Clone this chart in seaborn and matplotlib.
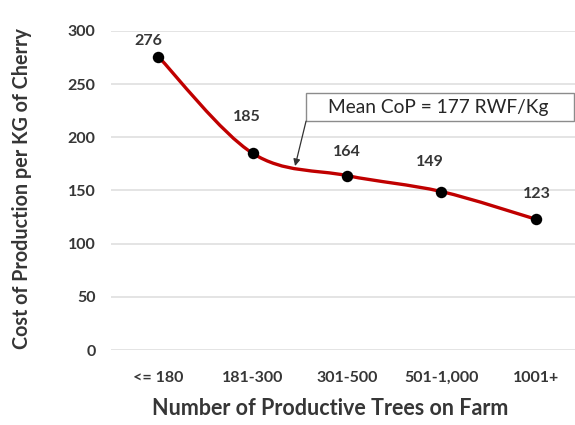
import numpy as np
import pandas as pd
import seaborn as sns
import matplotlib
matplotlib.use("Agg")
import matplotlib.pyplot as plt
from matplotlib.path import Path
from matplotlib.patches import PathPatch, Rectangle

# Cost of production per KG of cherry by farm size
tree_groups = ["<= 180", "181-300", "301-500", "501-1,000", "1001+"]
cost_per_kg = [276, 185, 164, 149, 123]
mean_cop = 177

sns.set_theme(style="white")
plt.rcParams["font.family"] = ["Lato", "DejaVu Sans"]

text_color = "#363636"
line_color = "#c00000"

fig = plt.figure(figsize=(5.75, 4.25), dpi=100)
ax = fig.add_axes([111 / 575, 75 / 425, 464 / 575, 319 / 425])

df = pd.DataFrame({"group": tree_groups, "cost": cost_per_kg})
df["pos"] = np.arange(len(df))

# Smoothed line (Catmull-Rom style cubic Bezier through the data points)
pts = df[["pos", "cost"]].to_numpy(dtype=float)
ext = np.vstack([pts[0], pts, pts[-1]])
verts = [tuple(pts[0])]
codes = [Path.MOVETO]
for i in range(len(pts) - 1):
    p0, p1, p2, p3 = ext[i], ext[i + 1], ext[i + 2], ext[i + 3]
    c1 = p1 + (p2 - p0) / 6.0
    c2 = p2 - (p3 - p1) / 6.0
    verts += [tuple(c1), tuple(c2), tuple(p2)]
    codes += [Path.CURVE4] * 3
ax.add_patch(PathPatch(Path(verts, codes), fill=False, edgecolor=line_color,
                       lw=2.4, capstyle="round", zorder=3))

sns.scatterplot(data=df, x="pos", y="cost", color="black", s=68,
                edgecolor="black", linewidth=0, zorder=4, ax=ax, clip_on=False)

# Data labels
label_offsets = [(-7, 11), (-4, 26), (0, 17), (-8, 21), (1, 18)]
for (x, y), (dx, dy) in zip(pts, label_offsets):
    ax.annotate(f"{int(y)}", xy=(x, y), xytext=(dx, dy), textcoords="offset points",
                ha="center", va="center", fontsize=11.5, fontweight="bold",
                color=text_color, zorder=5)

ax.set_xlim(-0.5, 4.415)
ax.set_ylim(0, 300)
ax.set_yticks(range(0, 301, 50))
ax.set_xticks(df["pos"])
ax.set_xticklabels(tree_groups)
ax.yaxis.grid(True, color="#dcdcdc", lw=1.1)
ax.xaxis.grid(False)
for s in ax.spines.values():
    s.set_visible(False)
ax.tick_params(axis="y", length=0, pad=11, labelsize=11.5, labelcolor=text_color)
ax.tick_params(axis="x", length=0, pad=15, labelsize=11.5, labelcolor=text_color)
for lab in ax.get_xticklabels() + ax.get_yticklabels():
    lab.set_fontweight("bold")

ax.set_xlabel("Number of Productive Trees on Farm", fontsize=15.5,
              fontweight="bold", color=text_color)
ax.set_ylabel("Cost of Production per KG of Cherry", fontsize=14.2,
              fontweight="bold", color=text_color)
ax.xaxis.label.set_va("center")
ax.xaxis.set_label_coords(0.472, -0.183)
ax.yaxis.label.set_va("center")
ax.yaxis.set_label_coords(-0.192, 0.506)

# Mean callout box with arrow pointing at the curve
box_x0, box_x1, box_y0, box_y1 = 1.566, 4.40, 215.2, 241.5
ax.add_patch(Rectangle((box_x0, box_y0), box_x1 - box_x0, box_y1 - box_y0,
                       facecolor="white", edgecolor="#8c8c8c", lw=1.0,
                       zorder=6, clip_on=False))
ax.text((box_x0 + box_x1) / 2 - 0.02, (box_y0 + box_y1) / 2,
        f"Mean CoP = {mean_cop} RWF/Kg", ha="center", va="center",
        fontsize=13.8, color="#262626", zorder=7)
ax.annotate("", xy=(1.45, 173), xytext=(box_x0, box_y0),
            arrowprops=dict(arrowstyle="-|>", color="#333333", lw=0.9,
                            mutation_scale=10, shrinkA=0, shrinkB=0),
            zorder=6)

fig.savefig("out.png", dpi=100)
